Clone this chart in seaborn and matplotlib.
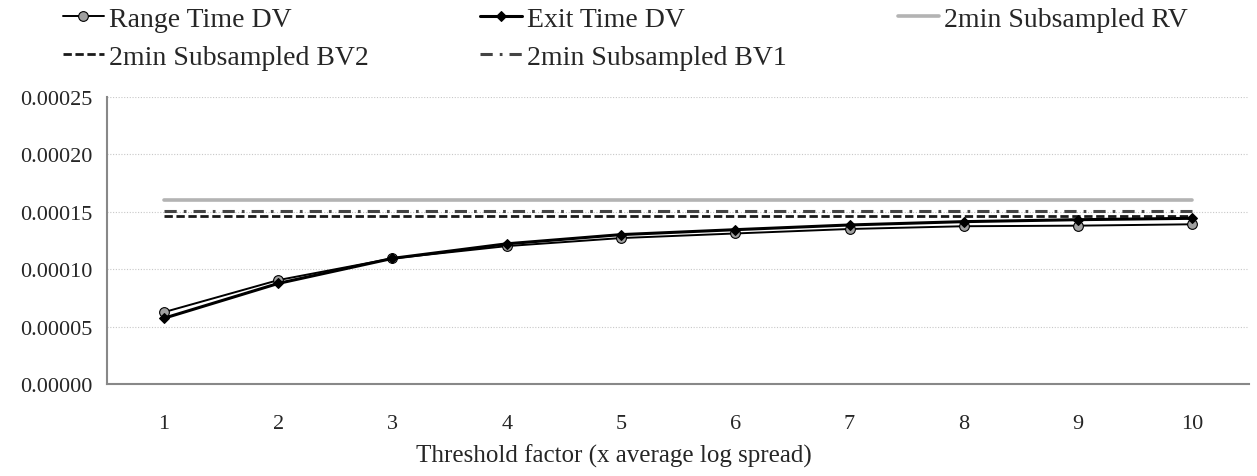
import numpy as np
import pandas as pd
import matplotlib
matplotlib.use("Agg")
import matplotlib.pyplot as plt
import seaborn as sns
from matplotlib.ticker import FixedLocator, FormatStrFormatter

# data
factors = [1, 2, 3, 4, 5, 6, 7, 8, 9, 10]
range_dv = [0.0000625, 0.0000904, 0.0001093, 0.0001200, 0.0001270,
            0.0001310, 0.0001349, 0.0001373, 0.0001378, 0.0001390]
exit_dv = [0.0000572, 0.0000875, 0.0001093, 0.0001220, 0.0001300,
           0.0001343, 0.0001384, 0.0001413, 0.0001430, 0.0001442]
rv_2min = [0.0001605] * 10
bv2_2min = [0.0001460] * 10
bv1_2min = [0.0001509] * 10

sns.set_style("white")
plt.rcParams['font.family'] = ['Liberation Serif', 'DejaVu Serif']
TICK_FS = 16
LABEL_FS = 18
LEG_FS = 20

fig = plt.figure(figsize=(12.57, 4.77), dpi=100)
ax = fig.add_axes([0.085, 0.193, 0.909, 0.602])

sns.lineplot(x=factors, y=rv_2min, ax=ax, color="#b3b3b3", linewidth=2.6,
             label="2min Subsampled RV", zorder=2)
sns.lineplot(x=factors, y=bv2_2min, ax=ax, color="#1a1a1a", linewidth=2.0,
             linestyle=(0, (3, 1.3)), label="2min Subsampled BV2", zorder=2)
sns.lineplot(x=factors, y=bv1_2min, ax=ax, color="#444444", linewidth=2.2,
             linestyle=(0, (4, 2.3, 0.9, 2.3)), label="2min Subsampled BV1", zorder=2)
sns.lineplot(x=factors, y=range_dv, ax=ax, color="black", linewidth=1.4,
             marker="o", markersize=7, markerfacecolor="#a0a0a0",
             markeredgecolor="black", markeredgewidth=0.8,
             label="Range Time DV", zorder=3)
sns.lineplot(x=factors, y=exit_dv, ax=ax, color="black", linewidth=2.2,
             marker="D", markersize=5.5, markerfacecolor="black",
             markeredgecolor="black", label="Exit Time DV", zorder=4)

ax.set_xlim(0.5, 10.5)
ax.set_ylim(0, 0.00025)
ax.set_yticks(np.arange(0, 0.00026, 0.00005))
ax.yaxis.set_major_formatter(FormatStrFormatter("%.5f"))
ax.set_xticks(factors)
ax.set_xticklabels([str(f) for f in factors])
ax.xaxis.set_minor_locator(FixedLocator(np.arange(0.5, 10.6, 1)))
ax.tick_params(axis="x", which="major", length=0, pad=22, labelsize=TICK_FS)
ax.tick_params(axis="x", which="minor", length=5, width=1, color="#888888",
               direction="out")
ax.tick_params(axis="y", which="major", length=5, width=1, color="#888888",
               direction="out", pad=5, labelsize=TICK_FS)
ax.yaxis.grid(True, linestyle=(0, (1, 1.5)), color="#c8c8c8", linewidth=0.8)
ax.xaxis.grid(False)
for s in ["top", "right"]:
    ax.spines[s].set_visible(False)
for s in ["left", "bottom"]:
    ax.spines[s].set_color("#888888")
    ax.spines[s].set_linewidth(1.5)
ax.set_xlabel("Threshold factor (x average log spread)", fontsize=LABEL_FS)
# title sits centred on the chart, a bit left of the axes centre
ax.xaxis.set_label_coords(0.444, -0.208)
ax.set_ylabel("")

handles, labels = ax.get_legend_handles_labels()
ax.get_legend().remove()
order = ["Range Time DV", "2min Subsampled BV2", "Exit Time DV",
         "2min Subsampled BV1", "2min Subsampled RV"]
hmap = dict(zip(labels, handles))
fig.legend([hmap[k] for k in order], order, ncol=3, loc="upper left",
           bbox_to_anchor=(0.041, 1.008), frameon=False, fontsize=LEG_FS,
           handlelength=1.5, handletextpad=0.18, columnspacing=4.0,
           labelspacing=0.45, borderaxespad=0)

fig.savefig("out.png", dpi=100)
